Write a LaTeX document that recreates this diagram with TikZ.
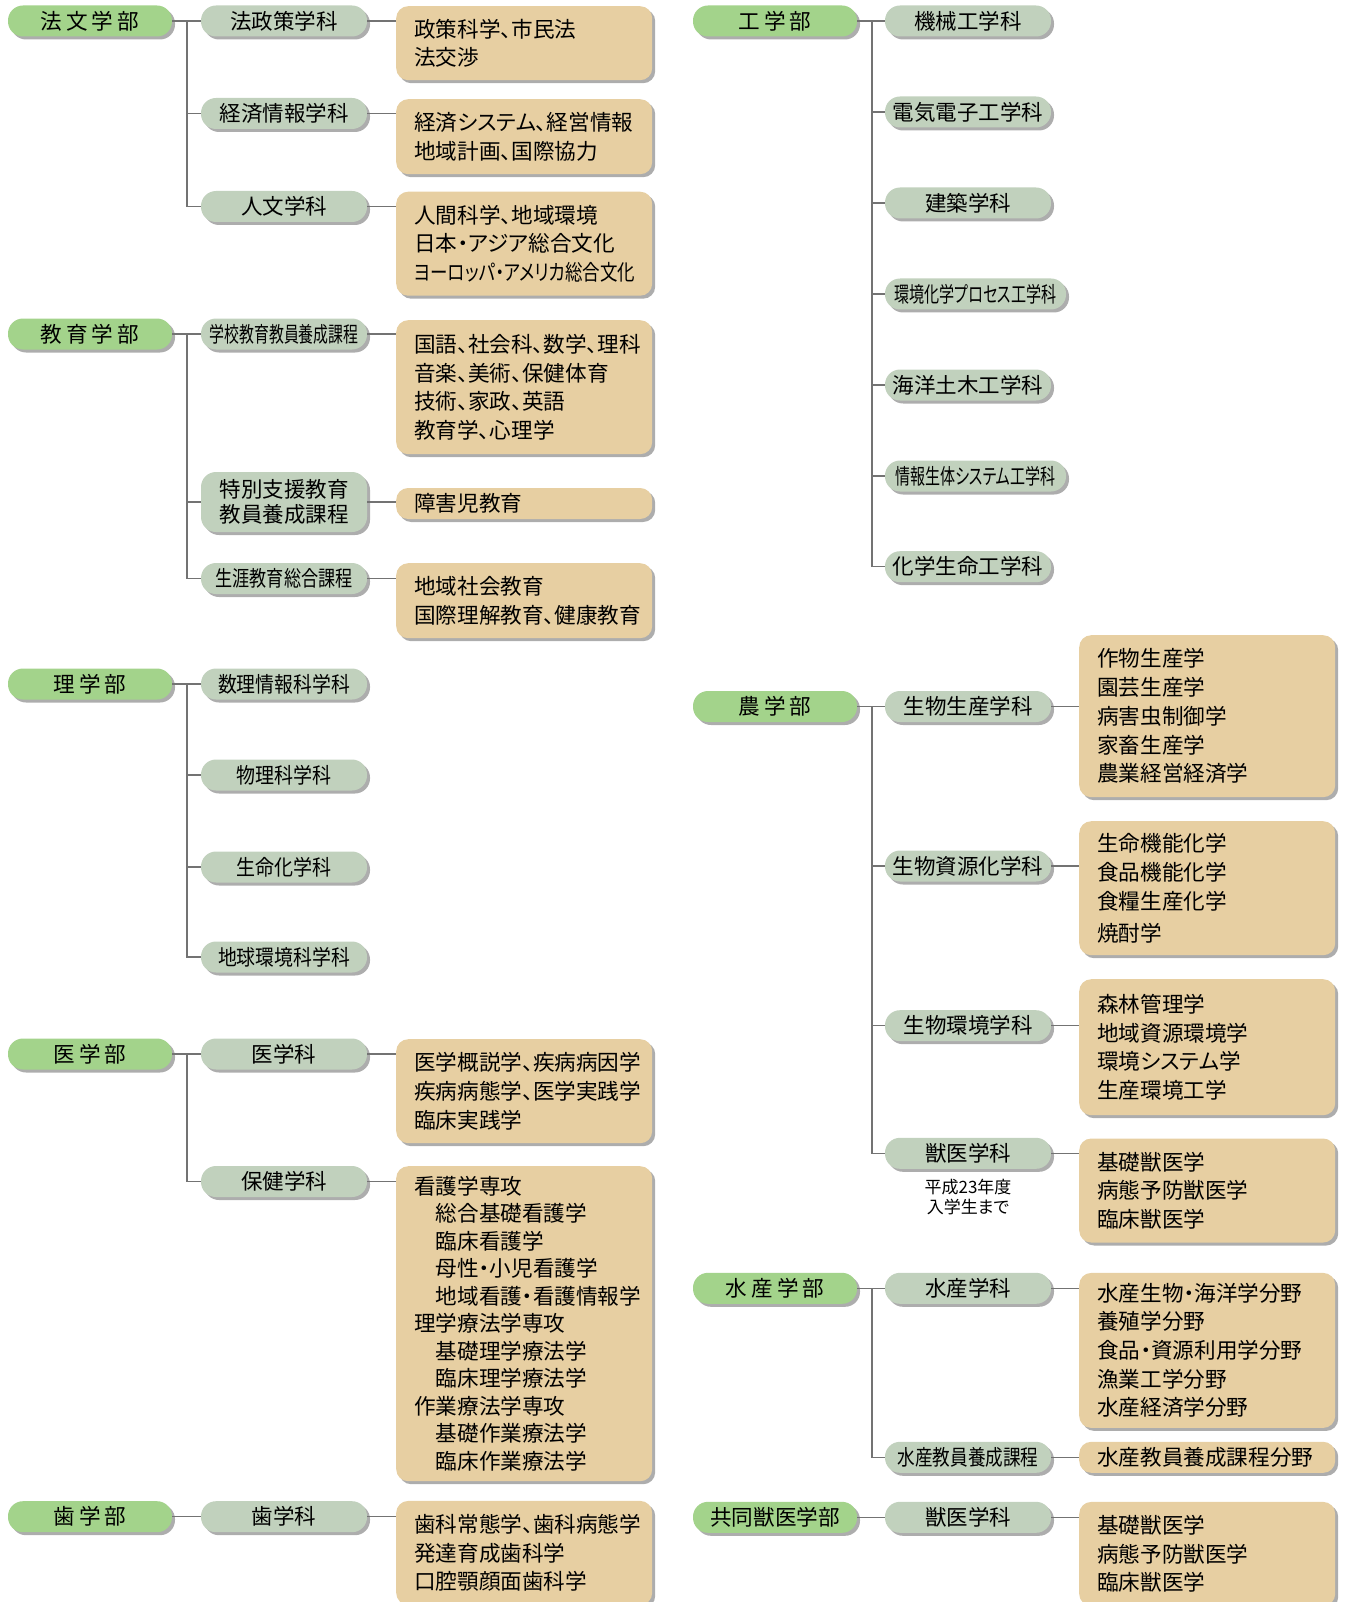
\documentclass[tikz,border=0pt]{standalone}
\usepackage{fontspec}
\setmainfont{Noto Sans CJK JP}[RawFeature=+palt]
\usepackage{graphicx}
\usetikzlibrary{shadows}

\definecolor{facgreen}{RGB}{163,211,139}
\definecolor{deptgreen}{RGB}{193,209,189}
\definecolor{boxtan}{RGB}{231,207,162}

\newcommand{\fg}{\hspace{4pt}}
\newcommand{\sq}[2]{\resizebox{#1pt}{\height}{#2}}
\newcommand{\subind}{\hspace*{1em}}

\begin{document}
\begin{tikzpicture}[x=1pt,y=-1pt,
    dshadow/.style={drop shadow={shadow xshift=3pt, shadow yshift=-3pt, fill=black!32, opacity=1}},
    fac/.style={fill=facgreen, rounded corners=15, minimum width=164, minimum height=31, inner sep=0, font=\fontsize{21.6}{26}\selectfont, dshadow},
    dept/.style={fill=deptgreen, rounded corners=15, minimum width=166, minimum height=31, inner sep=0, font=\fontsize{21.5}{26}\selectfont, dshadow},
    cbox/.style={fill=boxtan, rounded corners=12, anchor=north west, text width=220, inner xsep=18, inner ysep=0, align=left, font=\fontsize{21.6}{28.7}\selectfont, dshadow},
    note/.style={align=center, inner sep=0, font=\fontsize{17}{20.5}\selectfont},
    link/.style={draw=black!55, line width=1.3pt}]
    \useasboundingbox (0,0) rectangle (1344,1602);

    % left column
    \node[fac] (hobun) at (90,21) {法\fg 文\fg 学\fg 部};
    \node[dept] (hosei) at (284,21) {法政策学科};
    \node[dept] (keizai) at (284,113.5) {経済情報学科};
    \node[dept] (jinbun) at (284,206.5) {人文学科};
    \node[cbox, minimum height=74] (hosei-c) at (396,6) {政策科学、市民法\\法交渉};
    \node[cbox, minimum height=75] (keizai-c) at (396,99) {経済システム、経営情報\\地域計画、国際協力};
    \node[cbox, minimum height=104] (jinbun-c) at (396,191.5) {人間科学、地域環境\\日本・アジア総合文化\\\sq{221}{ヨーロッパ・アメリカ総合文化}};

    \node[fac] (kyoiku) at (90,334) {教\fg 育\fg 学\fg 部};
    \node[dept] (gakko) at (284,334) {\sq{149}{学校教育教員養成課程}};
    \node[dept, minimum height=60, align=center, font=\fontsize{21.5}{25}\selectfont] (tokubetsu) at (284,502) {特別支援教育\\教員養成課程};
    \node[dept] (shogai) at (284,578.5) {\sq{137}{生涯教育総合課程}};
    \node[cbox, minimum height=134] (gakko-c) at (396,320) {国語、社会科、数学、理科\\音楽、美術、保健体育\\技術、家政、英語\\教育学、心理学};
    \node[cbox, anchor=west, minimum height=31] (tokubetsu-c) at (396,503.5) {障害児教育};
    \node[cbox, minimum height=75] (shogai-c) at (396,563) {地域社会教育\\国際理解教育、健康教育};

    \node[fac] (rigaku) at (90,684) {理\fg 学\fg 部};
    \node[dept] (suri) at (284,684) {\sq{132}{数理情報科学科}};
    \node[dept] (butsuri) at (284,775) {\sq{95}{物理科学科}};
    \node[dept] (seimei) at (284,867) {\sq{95}{生命化学科}};
    \node[dept] (chikyu) at (284,957) {\sq{132}{地球環境科学科}};

    \node[fac] (igaku) at (90,1054) {医\fg 学\fg 部};
    \node[dept] (igakka) at (284,1054) {医学科};
    \node[dept] (hoken) at (284,1181.5) {保健学科};
    \node[cbox, minimum height=104] (igakka-c) at (396,1039) {医学概説学、疾病病因学\\疾病病態学、医学実践学\\臨床実践学};
    \node[cbox, minimum height=315, font=\fontsize{21.6}{27.5}\selectfont] (hoken-c) at (396,1166) {看護学専攻\\
        \subind 総合基礎看護学\\ \subind 臨床看護学\\ \subind 母性・小児看護学\\ \subind 地域看護・看護情報学\\
        理学療法学専攻\\ \subind 基礎理学療法学\\ \subind 臨床理学療法学\\
        作業療法学専攻\\ \subind 基礎作業療法学\\ \subind 臨床作業療法学};

    \node[fac] (shigaku) at (90,1516.7) {歯\fg 学\fg 部};
    \node[dept] (shigakka) at (284,1516.7) {歯学科};
    \node[cbox, minimum height=104] (shigakka-c) at (396,1500.7) {歯科常態学、歯科病態学\\発達育成歯科学\\口腔顎顔面歯科学};

    % right column
    \node[fac] (kogaku) at (775,21) {工\fg 学\fg 部};
    \node[dept] (kikai) at (968,21) {機械工学科};
    \node[dept] (denki) at (968,112) {電気電子工学科};
    \node[dept] (kenchiku) at (968,203) {建築学科};
    \node[dept, minimum width=181] (kankyo) at (975.5,294) {\sq{162}{環境化学プロセス工学科}};
    \node[dept] (kaiyo) at (968,385) {海洋土木工学科};
    \node[dept, minimum width=181] (joho) at (975.5,476) {\sq{160}{情報生体システム工学科}};
    \node[dept] (kagaku) at (968,566.7) {化学生命工学科};

    \node[fac] (nogaku) at (775,706.5) {農\fg 学\fg 部};
    \node[dept] (seisan) at (968,706.5) {生物生産学科};
    \node[dept] (shigen) at (968,866) {生物資源化学科};
    \node[dept] (seikan) at (968,1025.7) {生物環境学科};
    \node[dept] (jui) at (968,1153.3) {獣医学科};
    \node[note] (jui-n) at (968,1197) {平成23年度\\入学生まで};
    \node[cbox, minimum height=162] (seisan-c) at (1079,635) {作物生産学\\園芸生産学\\病害虫制御学\\家畜生産学\\農業経営経済学};
    \node[cbox, minimum height=134] (shigen-c) at (1079,821) {生命機能化学\\食品機能化学\\食糧生産化学\\[3pt]焼酎学};
    \node[cbox, minimum height=136] (seikan-c) at (1079,979) {森林管理学\\地域資源環境学\\環境システム学\\生産環境工学};
    \node[cbox, minimum height=104] (jui-c) at (1079,1138.3) {基礎獣医学\\病態予防獣医学\\臨床獣医学};

    \node[fac] (suisan) at (775,1288.3) {水\fg 産\fg 学\fg 部};
    \node[dept] (suigaku) at (968,1288.3) {水産学科};
    \node[dept] (suikyo) at (968,1457.3) {\sq{141}{水産教員養成課程}};
    \node[cbox, minimum height=155] (suigaku-c) at (1079,1272.7) {水産生物・海洋学分野\\養殖学分野\\食品・資源利用学分野\\漁業工学分野\\水産経済学分野};
    \node[cbox, anchor=west, minimum height=31] (suikyo-c) at (1079,1457.3) {水産教員養成課程分野};

    \node[fac] (kyodo) at (775,1517.3) {共同獣医学部};
    \node[dept] (kjui) at (968,1517.3) {獣医学科};
    \node[cbox, minimum height=104] (kjui-c) at (1079,1501.7) {基礎獣医学\\病態予防獣医学\\臨床獣医学};

    % branch lines
    \coordinate (hobun-v) at (187,21);
    \coordinate (kyoiku-v) at (187,334);
    \coordinate (rigaku-v) at (187,684);
    \coordinate (igaku-v) at (187,1054);
    \coordinate (kogaku-v) at (872,21);
    \coordinate (nogaku-v) at (872,706.5);
    \coordinate (suisan-v) at (872,1288.3);

    \draw[link] (hobun) -- (hosei);
    \draw[link] (hobun-v) |- (jinbun);
    \draw[link] (hobun-v |- keizai) -- (keizai);

    \draw[link] (kyoiku) -- (gakko);
    \draw[link] (kyoiku-v) |- (shogai);
    \draw[link] (kyoiku-v |- tokubetsu) -- (tokubetsu);

    \draw[link] (rigaku) -- (suri);
    \draw[link] (rigaku-v) |- (chikyu);
    \foreach \d in {butsuri,seimei}
        \draw[link] (rigaku-v |- \d) -- (\d);

    \draw[link] (igaku) -- (igakka);
    \draw[link] (igaku-v) |- (hoken);

    \draw[link] (shigaku) -- (shigakka);

    \draw[link] (kogaku) -- (kikai);
    \draw[link] (kogaku-v) |- (kagaku);
    \foreach \d in {denki,kenchiku,kankyo,kaiyo,joho}
        \draw[link] (kogaku-v |- \d) -- (\d);

    \draw[link] (nogaku) -- (seisan);
    \draw[link] (nogaku-v) |- (jui);
    \foreach \d in {shigen,seikan}
        \draw[link] (nogaku-v |- \d) -- (\d);

    \draw[link] (suisan) -- (suigaku);
    \draw[link] (suisan-v) |- (suikyo);

    \draw[link] (kyodo) -- (kjui);

    % department to contents
    \foreach \d in {hosei,keizai,jinbun,gakko,tokubetsu,shogai,igakka,hoken,shigakka,seisan,shigen,seikan,jui,suigaku,suikyo,kjui}
        \draw[link] (\d) -- (\d -| \d-c.west);
\end{tikzpicture}
\end{document}
